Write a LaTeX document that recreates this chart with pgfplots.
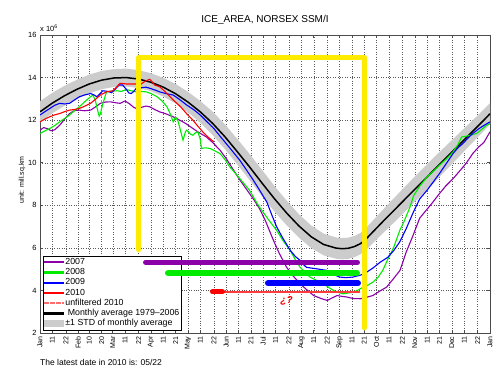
\documentclass[border=0pt]{standalone}
\usepackage{fontspec}
\setmainfont{Liberation Sans}
\usepackage{pgfplots}
\usepackage{pgfplotstable}
\pgfplotsset{compat=1.18}
\usepgfplotslibrary{fillbetween}
\definecolor{cpur}{RGB}{140,0,170}
\definecolor{cgrn}{RGB}{0,235,0}
\definecolor{cblu}{RGB}{0,0,255}
\definecolor{cred}{RGB}{255,0,0}
\definecolor{cpink}{RGB}{255,110,110}
\definecolor{clightred}{RGB}{255,60,60}
\definecolor{cstd}{RGB}{204,204,204}
\definecolor{cyel}{RGB}{255,235,0}

\pgfplotstableread{
d m lo hi
0 12.39 11.89 12.89
10 12.80 12.32 13.28
20 13.15 12.68 13.62
30 13.45 13.00 13.90
40 13.70 13.26 14.14
50 13.88 13.45 14.31
60 13.98 13.56 14.40
70 14.00 13.58 14.42
80 13.93 13.51 14.35
90 13.78 13.36 14.20
100 13.55 13.11 13.99
110 13.24 12.78 13.70
120 12.85 12.37 13.33
130 12.39 11.88 12.90
140 11.85 11.30 12.40
150 11.22 10.64 11.80
160 10.52 9.92 11.12
170 9.80 9.19 10.41
180 9.05 8.43 9.67
190 8.32 7.72 8.92
200 7.64 7.06 8.22
210 7.03 6.48 7.58
220 6.52 5.99 7.05
230 6.16 5.65 6.67
240 5.99 5.49 6.49
245 5.96 5.46 6.46
250 5.98 5.48 6.48
255 6.06 5.56 6.56
260 6.20 5.70 6.70
265 6.45 5.93 6.97
270 6.75 6.22 7.28
280 7.35 6.79 7.91
290 7.93 7.35 8.51
300 8.52 7.93 9.11
310 9.10 8.50 9.70
320 9.68 9.08 10.28
330 10.26 9.69 10.83
340 10.84 10.29 11.39
350 11.42 10.90 11.94
360 12.00 11.49 12.51
365 12.30 11.80 12.80
}\meantab

\pgfplotstableread{
d v
0 11.53
3 11.65
6 11.60
9 11.50
12 11.55
16 11.76
20 12.05
24 12.31
28 12.45
32 12.47
36 12.44
41 12.47
45 12.62
49 12.79
53 12.85
57 12.86
61 12.82
65 12.79
69 12.90
73 12.75
76 12.60
78 12.55
82 12.60
86 12.66
89 12.63
93 12.50
97 12.39
102 12.30
108 12.16
114 11.98
118 11.85
122 11.69
128 11.45
135 11.21
140 10.95
146 10.59
151 10.20
157 9.65
162 9.20
168 8.71
173 8.30
178 7.85
183 7.25
189 6.40
194 5.75
200 5.09
205 4.70
211 4.31
216 4.05
222 3.76
228 3.62
233 3.53
237 3.65
241 3.76
245 3.72
249 3.69
254 3.62
260 3.61
265 3.68
270 3.76
275 3.95
281 4.15
286 4.50
292 4.94
297 5.80
302 6.50
308 7.40
313 7.75
318 8.10
324 8.55
329 8.90
335 9.25
341 9.65
346 10.00
351 10.43
356 10.75
360 10.95
365 11.45
}\tabA

\pgfplotstableread{
d v
0 11.37
4 11.50
8 11.61
12 11.75
16 11.92
20 12.08
24 12.24
28 12.45
32 12.63
36 12.85
41 13.10
43 13.18
45 12.90
47 12.40
48 12.19
49 12.30
51 12.79
54 13.33
58 13.36
62 13.38
66 13.35
70 13.44
74 13.38
78 13.33
82 13.35
86 13.33
90 13.25
95 13.10
99 12.90
103 12.63
106 12.25
108 11.92
110 12.15
112 11.95
114 11.50
116 11.06
118 11.45
119 11.53
122 11.35
124 11.29
126 11.40
128 11.45
130 11.10
131 10.67
134 10.70
138 10.67
142 10.55
146 10.43
150 10.15
154 9.80
160 9.40
165 9.05
170 8.70
176 8.10
178 7.92
185 7.35
192 6.82
197 6.35
203 5.88
207 5.45
211 5.09
215 4.85
219 4.63
225 4.45
230 4.31
234 4.15
238 4.00
242 3.90
246 3.84
250 3.88
254 3.92
258 4.02
262 4.15
266 4.25
270 4.39
274 4.60
278 4.94
282 5.45
287 6.04
292 6.85
295 7.20
300 7.90
303 8.45
308 8.90
314 9.33
319 9.60
324 9.88
330 10.20
335 10.51
339 10.85
342 11.21
346 11.25
349 11.29
354 11.37
358 11.55
362 11.75
365 11.84
}\tabB

\pgfplotstableread{
d v
0 12.24
4 12.40
8 12.55
12 12.70
16 12.79
20 12.76
24 12.79
28 12.95
32 13.10
36 13.18
41 13.25
44 13.18
46 13.10
48 13.20
51 13.38
55 13.35
58 13.29
61 13.45
64 13.65
67 13.65
70 13.45
72 13.28
74 13.25
76 13.35
78 13.49
82 13.52
86 13.55
90 13.48
94 13.40
97 13.33
102 13.25
108 13.18
113 12.98
119 12.71
125 12.48
130 12.24
135 11.95
141 11.61
146 11.25
151 10.90
156 10.55
162 10.12
167 9.70
173 9.18
178 8.72
184 8.15
188 7.55
192 6.98
197 6.45
203 5.88
207 5.60
211 5.41
214 5.20
216 5.09
220 5.05
224 5.02
228 4.98
233 4.94
238 4.75
243 4.63
248 4.60
254 4.63
260 4.72
265 4.86
270 5.05
276 5.33
282 5.55
287 5.88
292 6.30
297 6.90
303 7.70
308 8.30
314 8.71
319 9.10
324 9.49
330 10.00
335 10.43
339 10.70
343 10.90
347 11.15
351 11.37
356 11.60
360 11.75
365 11.92
}\tabC

\pgfplotstableread{
d v
0 11.92
4 12.05
8 12.16
12 12.25
16 12.31
20 12.40
24 12.47
28 12.50
32 12.55
36 12.65
41 12.79
45 12.98
49 13.18
54 13.33
59 13.38
62 13.55
65 13.73
70 13.70
74 13.70
78 13.70
81 13.65
84 13.78
86 13.85
89 13.92
91 13.80
93 13.65
97 13.57
100 13.42
103 13.25
108 12.95
114 12.63
119 12.30
124 12.00
128 11.72
132 11.45
136 11.22
141 10.98
}\tabD

\begin{document}
\begin{tikzpicture}
\begin{axis}[
  at={(0pt,0pt)}, anchor=south west,
  scale only axis, width=450pt, height=298pt,
  xmin=0, xmax=365, ymin=2, ymax=16,
  xtick={0,10,21,31,40,50,59,69,80,90,100,110,120,130,141,151,161,171,181,191,202,212,222,233,243,253,263,273,283,294,304,314,324,334,344,355,365},
  xticklabels={Jan,11,22,Feb,10,20,Mar,11,22,Apr,11,21,May,11,22,Jun,11,21,Jul,11,22,Aug,11,22,Sep,11,21,Oct,11,22,Nov,11,21,Dec,11,22,Jan},
  x tick label style={rotate=90, anchor=east, font=\fontsize{7}{8}\selectfont},
  ytick={2,4,...,16},
  y tick label style={font=\fontsize{7.5}{9}\selectfont},
  /pgf/number format/assume math mode=true,
  tick align=inside, tick pos=both,
  major tick length=3pt,
  grid=major, major grid style={dotted, black!65, line width=0.4pt},
  axis line style={black!70, line width=0.6pt},
  tick style={black!70, line width=0.5pt},
  legend style={at={(0.0067,0.01)}, anchor=south west, fill=white,
    font=\fontsize{8.8}{9}\selectfont, inner xsep=1pt, inner ysep=1pt,
    row sep=0pt, column sep=1pt,
    nodes={inner sep=0.8pt, text height=6.6pt, text depth=2.1pt}},
  legend cell align=left,
]
\addplot[draw=none, name path=hi, forget plot] table[x=d,y=hi] \meantab;
\addplot[draw=none, name path=lo, forget plot] table[x=d,y=lo] \meantab;
\addplot[cstd, forget plot] fill between[of=hi and lo];
\addplot[black, line width=1.5pt, forget plot] table[x=d,y=m] \meantab;
\addplot[cpur, line width=1.1pt, forget plot] table[x=d,y=v] \tabA;
\addplot[cgrn, line width=1.1pt, forget plot] table[x=d,y=v] \tabB;
\addplot[cblu, line width=1.1pt, forget plot] table[x=d,y=v] \tabC;
\addplot[cred, line width=1.1pt, forget plot] table[x=d,y=v] \tabD;
\addplot[cpink, dashed, line width=1.1pt, forget plot] coordinates {(50,13.25) (50,9.73)};

\addlegendimage{legend image code/.code={\fill[cpur] (0pt,-0.7pt) rectangle (19pt,0.7pt);}}\addlegendentry{2007}
\addlegendimage{legend image code/.code={\fill[cgrn] (0pt,-0.7pt) rectangle (19pt,0.7pt);}}\addlegendentry{2008}
\addlegendimage{legend image code/.code={\fill[cblu] (0pt,-0.7pt) rectangle (19pt,0.7pt);}}\addlegendentry{2009}
\addlegendimage{legend image code/.code={\fill[cred] (0pt,-0.7pt) rectangle (19pt,0.7pt);}}\addlegendentry{2010}
\addlegendimage{legend image code/.code={\fill[cpink] (0pt,-0.6pt) rectangle (3.5pt,0.6pt) (6pt,-0.6pt) rectangle (9.5pt,0.6pt) (12pt,-0.6pt) rectangle (15.5pt,0.6pt) (18pt,-0.6pt) rectangle (19pt,0.6pt);}}\addlegendentry{unfiltered 2010}
\addlegendimage{legend image code/.code={\fill[black] (0pt,-0.8pt) rectangle (19pt,0.8pt);}}\addlegendentry{\ Monthly average 1979–2006}
\addlegendimage{legend image code/.code={\fill[cstd] (0pt,-3pt) rectangle (19pt,3.5pt);}}\addlegendentry{±1 STD of monthly average}
\end{axis}

\begin{axis}[
  at={(0pt,0pt)}, anchor=south west,
  scale only axis, width=450pt, height=298pt,
  xmin=0, xmax=365, ymin=2, ymax=16,
  hide axis, clip=false,
]
\addplot[cpur, line width=5pt, line cap=round] coordinates {(85.6,5.32) (257.5,5.32)};
\addplot[cgrn, line width=6.5pt, line cap=round] coordinates {(104,4.82) (256.9,4.82)};
\addplot[cblu, line width=6pt, line cap=round] coordinates {(184.9,4.34) (257.9,4.34)};
\addplot[clightred, line width=2pt, line cap=round] coordinates {(142,3.93) (259,3.93)};
\addplot[cred, line width=5pt, line cap=round] coordinates {(139.9,3.93) (148,3.93)};
\addplot[cyel, line width=5pt, line cap=round, line join=round] coordinates {(80,5.91) (80,14.94) (263,14.94) (263,2.24)};
\node[text=cred, font=\bfseries\itshape\fontsize{10}{12}\selectfont] at (axis cs:200,3.53) {¿?};
\end{axis}

\node[font=\fontsize{10}{12}\selectfont] at (225pt,313pt) {ICE\_AREA, NORSEX SSM/I};
\node[anchor=west, inner sep=0pt, font=\fontsize{7.5}{9}\selectfont] at (0pt,305pt) {x 10\textsuperscript{6}};
\node[rotate=90, font=\fontsize{7}{8}\selectfont] at (-18pt,153pt) {unit: mill.sq.km};
\node[anchor=west, inner sep=0pt, font=\fontsize{8.5}{10}\selectfont] at (0pt,-29pt) {The latest date in 2010 is: 05/22};
\pgfresetboundingbox
\path[use as bounding box] (-40pt,-42pt) rectangle (460pt,333pt);
\end{tikzpicture}
\end{document}
